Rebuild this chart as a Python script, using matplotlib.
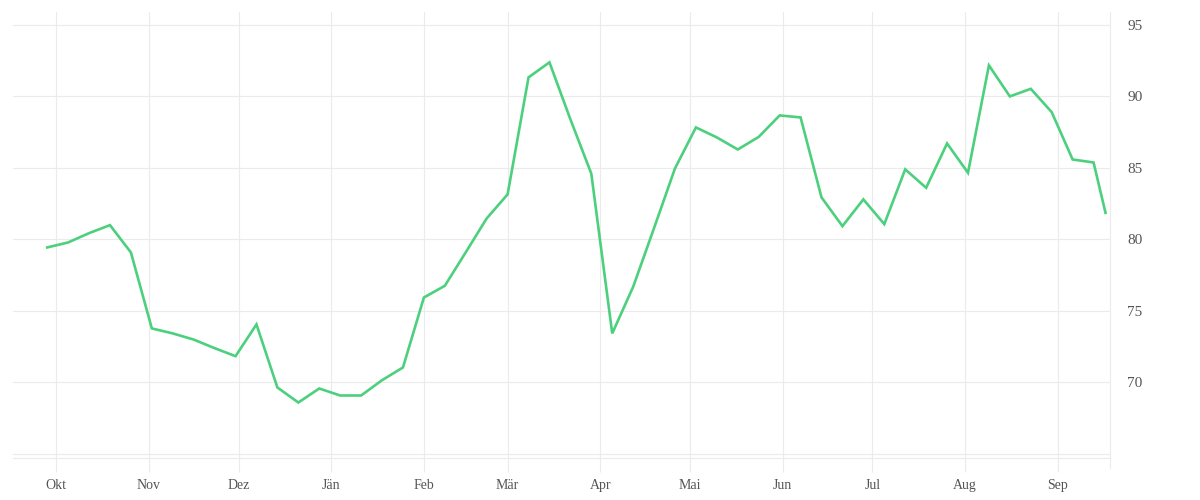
import numpy as np
import pandas as pd
import matplotlib.pyplot as plt
import matplotlib.dates as mdates

# weekly values
dates = list(pd.date_range("2020-09-28", periods=51, freq="7D")) + [pd.Timestamp("2021-09-17")]
values = [
    79.44, 79.79, 80.44, 81.0, 79.09, 73.78, 73.43, 73.0, 72.40, 71.84,
    74.06, 69.65, 68.60, 69.58, 69.09, 69.09, 70.16, 71.05, 75.94, 76.76,
    79.1, 81.47, 83.15, 91.33, 92.38, 88.4, 84.6, 73.43, 76.69, 80.8,
    84.97, 87.83, 87.13, 86.29, 87.17, 88.67, 88.53, 82.94, 80.93, 82.80,
    81.07, 84.90, 83.61, 86.71, 84.66, 92.17, 90.0, 90.53, 88.9, 85.59,
    85.38, 81.86,
]
month_labels = ["Okt", "Nov", "Dez", "Jän", "Feb", "Mär", "Apr", "Mai", "Jun", "Jul", "Aug", "Sep"]
month_ticks = pd.date_range("2020-10-01", periods=12, freq="MS")
y_ticks = [65, 70, 75, 80, 85, 90, 95]
y_labels = ["", "70", "75", "80", "85", "90", "95"]

grid_col = "#ebebeb"
text_col = "#555555"

fig = plt.figure(figsize=(12, 5), dpi=100)
ax = fig.add_axes([0.0111, 0.0834, 0.925 - 0.0111, 0.976 - 0.0834])

ax.plot(dates, values, color="#4cd07d", lw=1.9, solid_joinstyle="miter")

x0, x1 = pd.Timestamp("2020-09-16 16:00"), pd.Timestamp("2021-09-18 12:00")
ax.set_xlim(x0, x1)
ax.set_ylim(64.7, 95.9)

ax.set_xticks(month_ticks)
ax.set_xticklabels(month_labels)
ax.yaxis.tick_right()
ax.set_yticks(y_ticks)
ax.set_yticklabels(y_labels)

ax.grid(True, color=grid_col, lw=0.8)
ax.set_axisbelow(True)

for s in ["top", "left"]:
    ax.spines[s].set_visible(False)
for s in ["bottom", "right"]:
    ax.spines[s].set_color(grid_col)
    ax.spines[s].set_linewidth(0.8)
# right edge line runs down past the bottom like the month ticks
ax.axvline(x1, ymin=-10 / 446, ymax=0, color=grid_col, lw=0.8, clip_on=False)

ax.tick_params(axis="x", length=10, width=0.8, color=grid_col, pad=5,
               labelsize=10, labelcolor=text_col)
ax.tick_params(axis="y", length=0, pad=12.5, labelsize=11, labelcolor=text_col)
for lab in ax.get_xticklabels() + ax.get_yticklabels():
    lab.set_family(["Liberation Serif", "DejaVu Serif"])

fig.savefig("out.png", dpi=100)
